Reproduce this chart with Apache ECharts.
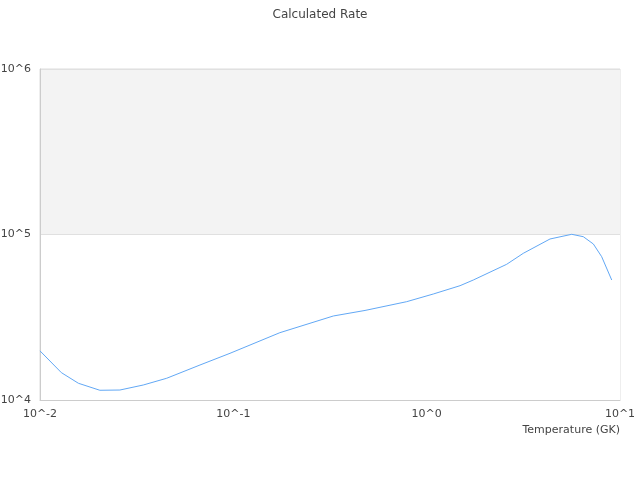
<!DOCTYPE html>
<html>
<head>
<meta charset="utf-8">
<script src="https://cdn.jsdelivr.net/npm/echarts@6/dist/echarts.min.js"></script>
<style>html,body{margin:0;padding:0;background:#fff}#c{width:640px;height:480px}</style>
</head>
<body>
<div id="c"></div>
<script>
var temperatures = [0.01, 0.0129, 0.0158, 0.0204, 0.0259, 0.0342, 0.0452, 0.0672, 0.0961, 0.174, 0.329, 0.48, 0.788, 1.082, 1.488, 1.743, 2.594, 3.16, 4.345, 5.626, 6.459, 7.28, 8.04, 9.06];
var rates = [19800, 14630, 12620, 11450, 11490, 12320, 13530, 16270, 19150, 25510, 32180, 34760, 39270, 43700, 49050, 53090, 66070, 76960, 93940, 100280, 96990, 87620, 73440, 53090];

var chart = echarts.init(document.getElementById('c'));
function pow10Label(v) { return '10^' + Math.round(Math.log10(v)); }
chart.setOption({
  animation: false,
  textStyle: { fontFamily: 'DejaVu Sans' },
  title: {
    text: 'Calculated Rate', left: 'center', top: 4,
    textStyle: { fontSize: 12, fontWeight: 'normal', color: '#444', fontFamily: 'DejaVu Sans' }
  },
  grid: { left: 40, right: 20, top: 69, bottom: 80, show: true, borderColor: '#ddd', borderWidth: 1, containLabel: false, outerBoundsMode: 'none' },
  xAxis: {
    type: 'log', logBase: 10, min: 0.01, max: 10,
    name: 'Temperature (GK)', nameLocation: 'end', nameGap: 0,
    nameTextStyle: { align: 'right', verticalAlign: 'top', padding: [25, 0, 0, 0], color: '#444', fontSize: 11, fontFamily: 'DejaVu Sans' },
    axisLine: { lineStyle: { color: '#ccc' } },
    axisTick: { show: false },
    axisLabel: { formatter: pow10Label, color: '#444', fontSize: 11, margin: 9, fontFamily: 'DejaVu Sans' },
    splitLine: { show: false }
  },
  yAxis: {
    type: 'log', logBase: 10, min: 10000, max: 1000000,
    axisLine: { show: true, lineStyle: { color: '#ccc' } },
    axisTick: { show: false },
    axisLabel: { formatter: pow10Label, color: '#444', fontSize: 11, margin: 9, fontFamily: 'DejaVu Sans' },
    splitLine: { show: true, lineStyle: { color: '#e0e0e0' } },
    splitArea: { show: true, areaStyle: { color: ['#ffffff', '#f3f3f3'] } }
  },
  series: [{
    type: 'line',
    data: temperatures.map(function (t, i) { return [t, rates[i]]; }),
    showSymbol: false,
    lineStyle: { color: '#62a8f5', width: 1 },
    itemStyle: { color: '#62a8f5' }
  }]
});
</script>
</body>
</html>
